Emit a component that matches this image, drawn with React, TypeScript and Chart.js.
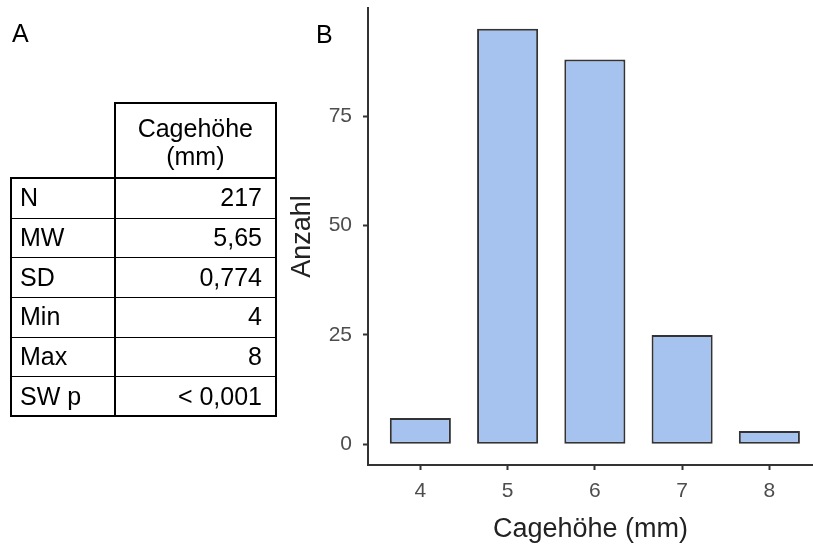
import React, { useEffect, useRef } from "react";
import { Chart, registerables } from "chart.js";

Chart.register(...registerables);

// Cage height histogram (panel B)
const categories = [4, 5, 6, 7, 8];
const counts = [6, 95, 88, 25, 3];
const yTicks = [0, 25, 50, 75];

// Summary table (panel A)
const headerLines = ["Cagehöhe", "(mm)"];
const statLabels = ["N", "MW", "SD", "Min", "Max", "SW p"];
const statValues = ["217", "5,65", "0,774", "4", "8", "< 0,001"];

const FONT = "'Liberation Sans', Arial, Helvetica, sans-serif";

function SummaryTable() {
  const rowTop = 178;
  const rowH = 39.67;
  const left = 10;
  const mid = 114;
  const right = 276.7;
  const top = 102;
  const bottom = rowTop + rowH * statLabels.length;
  const line = (x: number, y: number, w: number, h: number, key: string) => (
    <div key={key} style={{ position: "absolute", left: x, top: y, width: w, height: h, background: "#000" }} />
  );
  const lines = [
    line(mid, top, right - mid, 2, "ht"),
    line(mid, top, 2, bottom - top + 1, "vl"),
    line(right - 2, top, 2, bottom - top + 1, "vr"),
    line(left, rowTop - 1, right - left, 2, "bt"),
    line(left, rowTop - 1, 2, bottom - rowTop + 2, "bl"),
    line(left, bottom - 1, right - left, 2, "bb"),
  ];
  for (let i = 1; i < statLabels.length; i++) {
    lines.push(line(left, Math.round(rowTop + i * rowH) - 0.5, right - left, 1, "r" + i));
  }
  return (
    <div style={{ position: "absolute", left: 0, top: 0, fontFamily: FONT, fontSize: 25, color: "#000" }}>
      {lines}
      <div
        style={{
          position: "absolute",
          left: mid + 2,
          top: top + 3,
          width: right - mid - 4,
          height: rowTop - top - 3,
          display: "flex",
          flexDirection: "column",
          justifyContent: "center",
          alignItems: "center",
          lineHeight: "28px",
        }}
      >
        {headerLines.map((t) => (
          <div key={t}>{t}</div>
        ))}
      </div>
      {statLabels.map((lab, i) => (
        <React.Fragment key={lab}>
          <div
            style={{
              position: "absolute",
              left: 20,
              top: rowTop + i * rowH,
              height: rowH,
              display: "flex",
              alignItems: "center",
              lineHeight: 1,
              whiteSpace: "nowrap",
            }}
          >
            {lab}
          </div>
          <div
            style={{
              position: "absolute",
              left: mid + 2,
              width: 146,
              top: rowTop + i * rowH,
              height: rowH,
              display: "flex",
              alignItems: "center",
              justifyContent: "flex-end",
              lineHeight: 1,
              whiteSpace: "nowrap",
            }}
          >
            {statValues[i]}
          </div>
        </React.Fragment>
      ))}
    </div>
  );
}

export default function App() {
  const canvasRef = useRef<HTMLCanvasElement | null>(null);

  useEffect(() => {
    if (!canvasRef.current) return;
    const chart = new Chart(canvasRef.current, {
      type: "bar",
      data: {
        datasets: [
          {
            data: categories.map((c, i) => ({ x: c, y: counts[i] })),
            backgroundColor: "#A6C3EF",
            borderColor: "#333333",
            borderWidth: 2,
            borderSkipped: false,
            barPercentage: 0.7,
            categoryPercentage: 1,
          },
        ],
      },
      options: {
        responsive: false,
        animation: false,
        devicePixelRatio: 1,
        layout: { padding: { left: 280, top: 8, right: 0, bottom: 0 } },
        plugins: { legend: { display: false }, tooltip: { enabled: false } },
        scales: {
          x: {
            type: "linear",
            min: 3.4,
            max: 8.5,
            offset: false,
            afterBuildTicks: (s: any) => {
              s.ticks = categories.map((v) => ({ value: v }));
            },
            afterFit: (s: any) => {
              s.height = 81;
              s.paddingLeft = 0;
              s.paddingRight = 0;
            },
            grid: {
              offset: false,
              drawOnChartArea: false,
              drawTicks: true,
              tickLength: 5,
              tickWidth: 2,
              tickColor: "#333333",
            },
            border: { display: true, color: "#333333", width: 2 },
            ticks: {
              padding: 9,
              color: "#4D4D4D",
              font: { family: FONT, size: 21 },
              callback: (v: any) => String(v),
            },
            title: {
              display: true,
              text: "Cagehöhe (mm)",
              color: "#222222",
              font: { family: FONT, size: 27 },
              padding: { top: 0, bottom: 0 },
            },
          },
          y: {
            type: "linear",
            min: -4.75,
            max: 99.75,
            afterBuildTicks: (s: any) => {
              s.ticks = yTicks.map((v) => ({ value: v }));
            },
            afterFit: (s: any) => {
              s.width = 88;
              s.paddingTop = 0;
              s.paddingBottom = 0;
            },
            grid: {
              drawOnChartArea: false,
              drawTicks: true,
              tickLength: 5,
              tickWidth: 2,
              tickColor: "#333333",
            },
            border: { display: true, color: "#333333", width: 2 },
            ticks: {
              padding: 11,
              color: "#4D4D4D",
              font: { family: FONT, size: 21 },
              callback: (v: any) => String(v),
            },
            title: {
              display: true,
              text: "Anzahl",
              color: "#222222",
              font: { family: FONT, size: 27 },
              padding: { top: 6, bottom: 0 },
            },
          },
        },
      },
    });
    return () => chart.destroy();
  }, []);

  return (
    <div style={{ position: "absolute", left: 0, top: 0, width: 813, height: 546, background: "#fff", overflow: "hidden" }}>
      <canvas ref={canvasRef} width={813} height={546} style={{ position: "absolute", left: 0, top: 0 }} />
      <SummaryTable />
      <div style={{ position: "absolute", left: 12, top: 21, fontFamily: FONT, fontSize: 25, lineHeight: 1, color: "#000" }}>A</div>
      <div style={{ position: "absolute", left: 316, top: 22, fontFamily: FONT, fontSize: 25, lineHeight: 1, color: "#000" }}>B</div>
    </div>
  );
}
